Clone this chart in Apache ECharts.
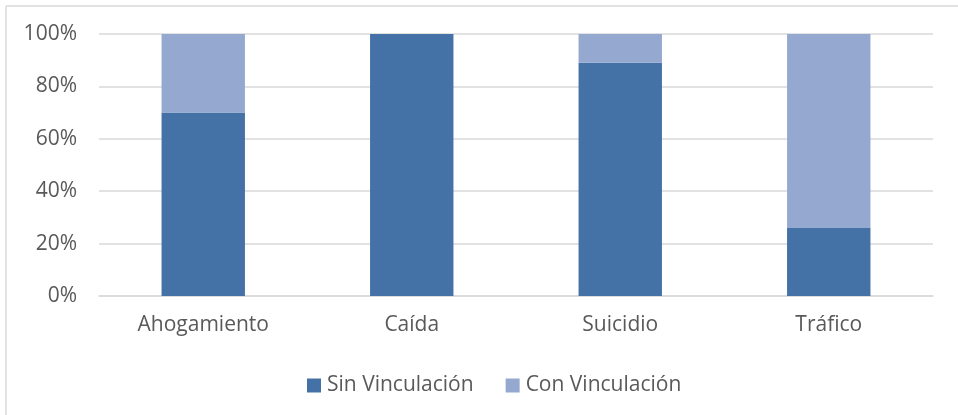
<!DOCTYPE html>
<html>
<head>
<meta charset="utf-8">
<script src="https://cdn.jsdelivr.net/npm/echarts@6/dist/echarts.min.js"></script>
<style>html,body{margin:0;padding:0;background:#fff;}#c{width:958px;height:415px;}</style>
</head>
<body>
<div id="c"></div>
<script>
const categories = ['Ahogamiento', 'Caída', 'Suicidio', 'Tráfico'];
const sinVinculacion = [70, 100, 89, 26];
const conVinculacion = [30, 0, 11, 74];
const seriesNames = ['Sin Vinculación', 'Con Vinculación'];

const FONT = 'Open Sans';
const chart = echarts.init(document.getElementById('c'), null, {renderer: 'canvas'});
chart.setOption({
  animation: false,
  textStyle: {fontFamily: FONT},
  graphic: [
    {type: 'line', shape: {x1: 6, y1: 6, x2: 958, y2: 6}, style: {stroke: '#d9d9d9', lineWidth: 1.5}},
    {type: 'line', shape: {x1: 6, y1: 6, x2: 6, y2: 415}, style: {stroke: '#d9d9d9', lineWidth: 1.5}}
  ],
  grid: {left: 99, right: 25, top: 34, bottom: 119, containLabel: false},
  legend: {
    data: seriesNames,
    top: 370,
    left: 302,
    itemWidth: 14, itemHeight: 14, itemGap: 32,
    icon: 'rect',
    textStyle: {color: '#595959', fontSize: 21, fontFamily: FONT, padding: [0, 0, 0, 1]}
  },
  xAxis: {
    type: 'category',
    data: categories,
    axisTick: {show: false},
    axisLine: {show: true, lineStyle: {color: '#d9d9d9', width: 1.5}},
    axisLabel: {color: '#595959', fontSize: 21, margin: 19, fontFamily: FONT}
  },
  yAxis: {
    type: 'value',
    min: 0, max: 100, interval: 20,
    axisLabel: {formatter: '{value}%', color: '#595959', fontSize: 21, margin: 22, fontFamily: FONT},
    axisLine: {show: false},
    axisTick: {show: false},
    splitLine: {lineStyle: {color: '#d9d9d9', width: 1.5}}
  },
  series: [
    {name: seriesNames[0], type: 'bar', stack: 'a', data: sinVinculacion, barWidth: '40%',
     itemStyle: {color: '#4472A7'}},
    {name: seriesNames[1], type: 'bar', stack: 'a', data: conVinculacion, barWidth: '40%',
     itemStyle: {color: '#95A9D0'}}
  ]
});
</script>
</body>
</html>
